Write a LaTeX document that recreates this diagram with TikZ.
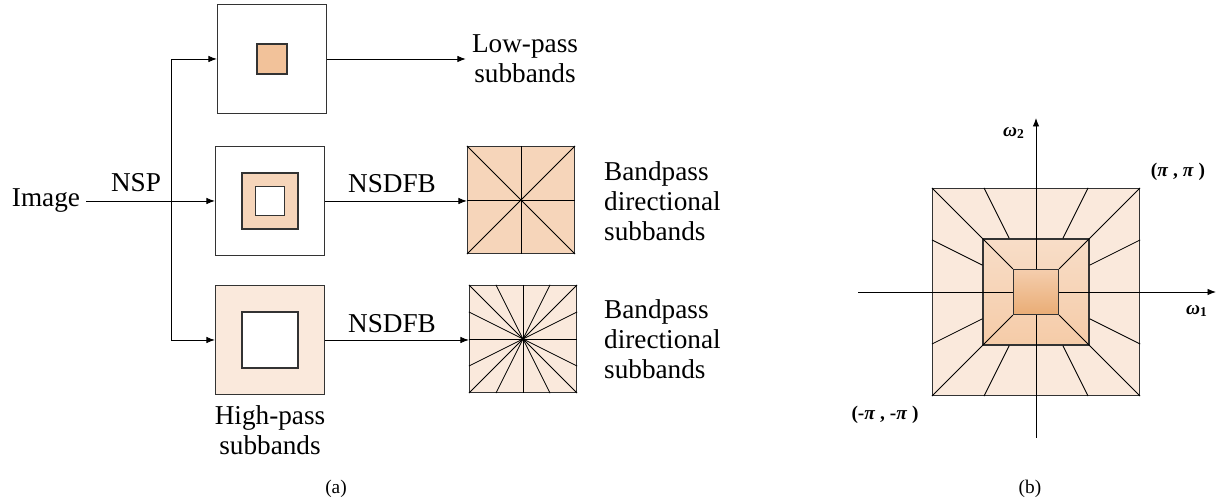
\documentclass[tikz,border=0pt]{standalone}
\usepackage{fontspec}
\setmainfont{Liberation Serif}
\usetikzlibrary{arrows.meta,calc,positioning}

\definecolor{peachdark}{HTML}{F2C29A}
\definecolor{peachmid}{HTML}{F6D5BA}
\definecolor{peachlight}{HTML}{FAE9DC}

\begin{document}
\begin{tikzpicture}[
            x=0.02cm, y=-0.02cm,
            every node/.style={font=\fontsize{15.5}{17}\selectfont},
            frame/.style={draw=black!80, line width=0.7pt, inner sep=0pt, minimum size=2.18cm},
            dirbox/.style={frame, minimum size=2.14cm},
            ray/.style={line width=0.5pt},
            link/.style={-{Latex[length=1.7mm,width=1.3mm]}, line width=0.5pt},
            caption/.style={font=\fontsize{11}{13}\selectfont},
            axislabel/.style={font=\bfseries\fontsize{11}{13}\selectfont}
        ]
        \useasboundingbox (0,0) rectangle (1224,502);

        % (a) NSP decomposition
        \node[frame] (lp) at (272,59) {};
        \node[frame, fill=peachdark, minimum size=0.6cm] (lpcore) at (lp.center) {};
        \node[frame] (bp) at (270,201) {};
        \node[frame, fill=peachmid, minimum size=1.12cm] (bpring) at (bp.center) {};
        \node[frame, fill=white, minimum size=0.58cm] (bpcore) at (bp.center) {};
        \node[frame, fill=peachlight] (hp) at (270,340) {};
        \node[frame, fill=white, minimum size=1.12cm] (hpcore) at (hp.center) {};

        % Directional subbands
        \node[dirbox, fill=peachmid] (dir1) at (521,200) {};
        \draw[ray] (dir1.north west) -- (dir1.south east);
        \draw[ray] (dir1.north east) -- (dir1.south west);
        \draw[ray] (dir1.north) -- (dir1.south);
        \draw[ray] (dir1.west) -- (dir1.east);

        \node[dirbox, fill=peachlight] (dir2) at (523,339) {};
        \foreach \t in {0,0.25,0.5,0.75,1}
            \draw[ray] ($(dir2.north west)!\t!(dir2.north east)$) -- ($(dir2.south east)!\t!(dir2.south west)$);
        \foreach \t in {0.25,0.5,0.75}
            \draw[ray] ($(dir2.north west)!\t!(dir2.south west)$) -- ($(dir2.south east)!\t!(dir2.north east)$);

        % Texts
        \node (img) at (46,201) {Image};
        \node (nsp) at (136,183) {NSP};
        \node (nsdfb1) at (392,184) {NSDFB};
        \node (nsdfb2) at (392,324) {NSDFB};
        \node[align=center] (lptxt) at (525,59) {Low-pass\\subbands};
        \node[align=left, anchor=west] (bptxt1) at (598,201) {Bandpass\\directional\\subbands};
        \node[align=left, anchor=west] (bptxt2) at (598,339) {Bandpass\\directional\\subbands};
        \node[align=center] (hptxt) at (270,430) {High-pass\\subbands};
        \node[caption] (capa) at (336,489) {(a)};

        % Connections
        \coordinate (split) at (171,201);
        \draw[link] (img) -- (bp);
        \draw[link] (split) |- (lp);
        \draw[link] (split) |- (hp);
        \draw[link] (lp) -- (lptxt);
        \draw[link] (bp.east) -- (bp.east -| dir1.west);
        \draw[link] (hp.east) -- (hp.east -| dir2.west);

        % (b) frequency partition
        \node[frame, fill=peachlight, minimum size=4.14cm] (outer) at (1036,292) {};
        \node[frame, top color=peachmid!80!white, bottom color=peachmid!70!peachdark!95!orange, minimum size=2.12cm] (middle) at (1036,292) {};
        \coordinate (w1s) at (858,292);
        \coordinate (w1e) at (1216,292);
        \coordinate (w2s) at (1036,438);
        \coordinate (w2e) at (1036,118);
        \draw[link] (w1s) -- (w1e);
        \draw[link] (w2s) -- (w2e);
        \node[frame, top color=peachmid!60!peachdark, bottom color=peachdark!85!orange!80!brown, minimum size=0.9cm] (inner) at (1036,292) {};

        \foreach \corner in {north east, north west, south east, south west}
            \draw[ray] (inner.\corner) -- (outer.\corner);
        \foreach \side/\corner in {north/north east, north/north west, south/south east, south/south west,
                                   east/north east, east/south east, west/north west, west/south west}
            \draw[ray] ($(middle.\side)!0.5!(middle.\corner)$) -- ($(outer.\side)!0.5!(outer.\corner)$);

        % Axis labels
        \node[axislabel] (w2lab) at (1014,133) {\itshape ω\textsubscript{\upshape 2}};
        \node[axislabel] (w1lab) at (1197,311) {\itshape ω\textsubscript{\upshape 1}};
        \node[axislabel] (pp) at (1178,172) {(\textit{π} , \textit{π} )};
        \node[axislabel] (mm) at (885,415) {(-\textit{π} , -\textit{π} )};
        \node[caption] (capb) at (1030,489) {(b)};

\end{tikzpicture}
\end{document}
